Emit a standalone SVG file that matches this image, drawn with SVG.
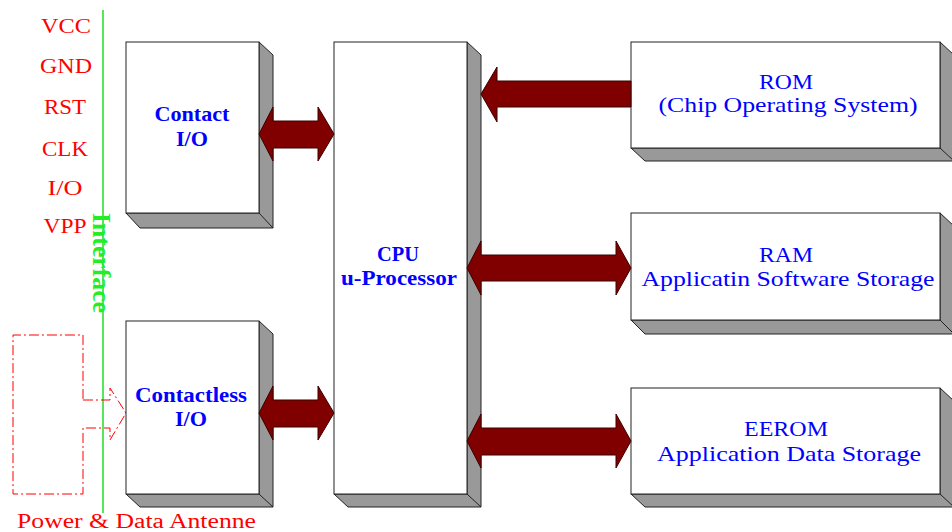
<svg xmlns="http://www.w3.org/2000/svg" width="952" height="532" viewBox="0 0 952 532">
<style>
.box{fill:#ffffff;stroke:#222222;stroke-width:1}
.shd{fill:#999999;stroke:#222222;stroke-width:1}
.arr{fill:#800000;stroke:#3a0000;stroke-width:1}
.pin{font-family:"Liberation Serif","DejaVu Serif",serif;font-size:22px;fill:#ff0000;text-anchor:middle}
.bt{font-family:"Liberation Serif","DejaVu Serif",serif;font-size:21px;font-weight:bold;fill:#0000ff;text-anchor:middle}
.nt{font-family:"Liberation Serif","DejaVu Serif",serif;font-size:21px;fill:#0000ff;text-anchor:middle}
</style>
<rect width="952" height="532" fill="#ffffff"/>

<g id="pins">
<text class="pin" x="66" y="33" textLength="50" lengthAdjust="spacingAndGlyphs">VCC</text>
<text class="pin" x="66" y="73" textLength="52" lengthAdjust="spacingAndGlyphs">GND</text>
<text class="pin" x="65" y="114" textLength="42" lengthAdjust="spacingAndGlyphs">RST</text>
<text class="pin" x="65" y="156" textLength="46" lengthAdjust="spacingAndGlyphs">CLK</text>
<text class="pin" x="65" y="195" textLength="35" lengthAdjust="spacingAndGlyphs">I/O</text>
<text class="pin" x="65" y="233" textLength="43" lengthAdjust="spacingAndGlyphs">VPP</text>
</g>

<g id="interface">
<line x1="103" y1="10" x2="103" y2="513" stroke="#22dd22" stroke-width="1.5"/>
<text transform="translate(93,213) rotate(90)" x="0" y="0" font-family="Liberation Serif,DejaVu Serif,serif" font-size="26" font-weight="bold" fill="#22ee22" textLength="100" lengthAdjust="spacingAndGlyphs">Interface</text>
</g>

<g id="antenna">
<path d="M83,400 H110 V388 L126,413 L110,440 V428 H83 V494 H13 V335 H83 Z" fill="none" stroke="#ff0000" stroke-width="1" stroke-dasharray="10,3,2,3"/>
<text x="17" y="528" font-family="Liberation Serif,DejaVu Serif,serif" font-size="20" fill="#ff0000" textLength="239" lengthAdjust="spacingAndGlyphs">Power &amp; Data Antenne</text>
</g>

<g id="contact-io">
<polygon class="shd" points="259,42 273,55 273,228 140,228 126,213 259,213"/>
<line x1="259" y1="213" x2="273" y2="228" stroke="#222" stroke-width="1"/>
<rect class="box" x="126" y="42" width="133" height="171"/>
<text class="bt" x="192" y="121" textLength="75" lengthAdjust="spacingAndGlyphs">Contact</text>
<text class="bt" x="192" y="146" textLength="32" lengthAdjust="spacingAndGlyphs">I/O</text>
</g>

<g id="contactless-io">
<polygon class="shd" points="259,321 273,334 273,507 140,507 126,494 259,494"/>
<line x1="259" y1="494" x2="273" y2="507" stroke="#222" stroke-width="1"/>
<rect class="box" x="126" y="321" width="133" height="173"/>
<text class="bt" x="191" y="402" textLength="112" lengthAdjust="spacingAndGlyphs">Contactless</text>
<text class="bt" x="191" y="426" textLength="32" lengthAdjust="spacingAndGlyphs">I/O</text>
</g>

<g id="cpu">
<polygon class="shd" points="467,42 481,55 481,507 348,507 334,494 467,494"/>
<line x1="467" y1="494" x2="481" y2="507" stroke="#222" stroke-width="1"/>
<rect class="box" x="334" y="42" width="133" height="452"/>
<text class="bt" x="398" y="261" textLength="42" lengthAdjust="spacingAndGlyphs">CPU</text>
<text class="bt" x="399" y="285" textLength="116" lengthAdjust="spacingAndGlyphs">u-Processor</text>
</g>

<g id="rom">
<polygon class="shd" points="940,42 954,55 954,161 645,161 631,148 940,148"/>
<line x1="940" y1="148" x2="954" y2="161" stroke="#222" stroke-width="1"/>
<rect class="box" x="631" y="42" width="309" height="106"/>
<text class="nt" x="786" y="89" textLength="54" lengthAdjust="spacingAndGlyphs">ROM</text>
<text class="nt" x="788" y="112" textLength="259" lengthAdjust="spacingAndGlyphs">(Chip Operating System)</text>
</g>

<g id="ram">
<polygon class="shd" points="940,213 954,226 954,334 645,334 631,320 940,320"/>
<line x1="940" y1="320" x2="954" y2="334" stroke="#222" stroke-width="1"/>
<rect class="box" x="631" y="213" width="309" height="107"/>
<text class="nt" x="786" y="262" textLength="54" lengthAdjust="spacingAndGlyphs">RAM</text>
<text class="nt" x="788" y="286" textLength="293" lengthAdjust="spacingAndGlyphs">Applicatin Software Storage</text>
</g>

<g id="eerom">
<polygon class="shd" points="940,388 954,401 954,507 645,507 631,494 940,494"/>
<line x1="940" y1="494" x2="954" y2="507" stroke="#222" stroke-width="1"/>
<rect class="box" x="631" y="388" width="309" height="106"/>
<text class="nt" x="786" y="436" textLength="84" lengthAdjust="spacingAndGlyphs">EEROM</text>
<text class="nt" x="789" y="461" textLength="264" lengthAdjust="spacingAndGlyphs">Application Data Storage</text>
</g>

<g id="connectors">
<polygon class="arr" points="259,134 273,107 273,121 318,121 318,107 334,134 318,161 318,148 273,148 273,161"/>
<polygon class="arr" points="259,413 273,386 273,400 318,400 318,386 334,413 318,440 318,427 273,427 273,440"/>
<polygon class="arr" points="481,94 497,67 497,81 631,81 631,107 497,107 497,122"/>
<polygon class="arr" points="467,268 481,241 481,255 616,255 616,241 631,268 616,295 616,281 481,281 481,295"/>
<polygon class="arr" points="467,441 481,414 481,428 616,428 616,414 631,441 616,468 616,455 481,455 481,468"/>
</g>
</svg>
